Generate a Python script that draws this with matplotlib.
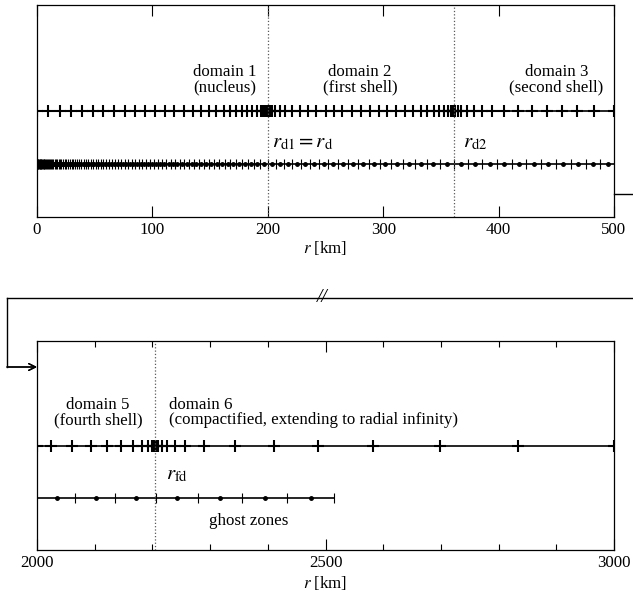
import numpy as np
import matplotlib.pyplot as plt
from matplotlib.lines import Line2D

plt.rcParams['font.family'] = 'serif'
plt.rcParams['font.serif'] = ['Liberation Serif']
plt.rcParams['mathtext.fontset'] = 'stix'
plt.rcParams['font.size'] = 12.2

# --- top panel: domains 1-3 (angular grid points) ---
spec_r = [0, 9.8, 20, 29.3, 38.8, 48.4, 57.6, 66.8, 76.4, 85, 93.8, 102.4, 111, 119, 127,
          134.8, 142, 148.7, 155.4, 161.7, 167.5, 172.7, 177.6, 182, 186.3, 190.6, 194,
          196.2, 197.8, 198.9, 199.6, 200,
          200.5, 201.5, 203.5, 206.6, 210.4, 215.3, 221, 228, 234.6, 242, 250, 257, 264.5,
          273, 280.4, 288.5, 296.3, 303.6, 311.4, 318.6, 325.8, 332.5, 338.3, 344, 348.4,
          352.7, 356, 358.5, 360, 361,
          361.5, 362.5, 364.6, 367.8, 373, 378.7, 386, 394.7, 404.8, 417, 428.6, 441.8,
          454.6, 467.9, 482.4, 500]

# hydro grid cell interfaces (top panel)
hydro_edges = [0, 0.4, 0.8, 1.2, 1.7, 2.2, 2.7, 3.2, 3.8, 4.4, 5.0, 5.7, 6.4, 7.1, 7.9,
               8.7, 9.5, 10.4, 11.3, 12.2, 13.2, 14.2, 15.3, 16.4, 17.5, 18.7, 19.9, 21.2,
               22.5, 23.9, 25.3, 26.8, 28.3, 29.9, 31.5, 33.2, 34.9, 36.7, 38.5, 40.4, 42.3,
               44.3, 46.4, 48.5, 50.7, 52.9, 55.2, 57.6, 60.0, 62.5, 65.1, 67.7, 70.4, 73.2,
               76.0, 78.9, 81.9, 85.0, 88.1, 91.3, 94.6, 98.0, 101.4, 104.9, 108.5, 112.2,
               116.0, 119.8, 123.7, 127.7, 131.8, 136.0, 140.2, 144.5, 148.9, 153.4, 158.0,
               162.7, 167.5, 172.4, 177.4, 182.5, 187.7, 193.0, 200.0, 207.0, 214.0, 221.3,
               228.8, 236.5, 244.4, 252.5, 260.8, 269.4, 278.3, 287.5, 297.0, 306.8, 316.9,
               327.3, 338.0, 349.0, 361.0, 373.5, 386.0, 398.6, 411.3, 424.0, 436.8, 449.6,
               462.5, 475.4, 488.3, 501.2]

# --- bottom panel: domains 5-6 ---
spec_r2 = [2000, 2025, 2060, 2093, 2121, 2145, 2167, 2182, 2192, 2199, 2203, 2205, 2207,
           2210, 2217, 2225, 2240, 2256, 2289, 2344, 2411, 2487, 2583, 2698, 2834, 3000]
ghost_edges = [2066, 2136, 2206, 2279, 2356, 2434, 2515]
ghost_centres = [2034, 2102, 2172, 2243, 2318, 2395, 2475]

r_d1, r_d2, r_fd = 200, 361, 2205

W, H = 633, 598
fig = plt.figure(figsize=(W / 100, H / 100), dpi=100)
ax1 = fig.add_axes([37 / W, 1 - 217 / H, 577 / W, 212 / H])
ax2 = fig.add_axes([37 / W, 1 - 550 / H, 577 / W, 209 / H])

y_up, y_lo = 0.5, 0.25
edges = np.array(hydro_edges)
centres = 0.5 * (edges[1:] + edges[:-1])

ax1.plot([0, 500], [y_up, y_up], color='k', lw=1.2)
ax1.plot(spec_r, [y_up] * len(spec_r), ls='none', marker='+', ms=8, mew=1.5, color='k')
ax1.plot([0, 500], [y_lo, y_lo], color='k', lw=1.2)
ax1.plot(edges, [y_lo] * len(edges), ls='none', marker='|', ms=7.5, mew=0.8, color='k')
ax1.plot(centres, [y_lo] * len(centres), ls='none', marker='o', ms=2.5, color='k')
for rb in (r_d1, r_d2):
    ax1.axvline(rb, ls=':', lw=0.9, color='0.35')

ax1.text(163, 0.685, 'domain 1', ha='center', va='center')
ax1.text(163, 0.61, '(nucleus)', ha='center', va='center')
ax1.text(280, 0.685, 'domain 2', ha='center', va='center')
ax1.text(280, 0.61, '(first shell)', ha='center', va='center')
ax1.text(450, 0.685, 'domain 3', ha='center', va='center')
ax1.text(450, 0.61, '(second shell)', ha='center', va='center')
ax1.text(204, 0.35, r'$r_{\rm d1} = r_{\rm d}$', fontsize=15, va='center')
ax1.text(369, 0.35, r'$r_{\rm d2}$', fontsize=15, va='center')

ax1.set_xlim(0, 500)
ax1.set_ylim(0, 1)
ax1.set_xticks(np.arange(0, 501, 100))
ax1.set_xlabel(r'$r$ [km]', labelpad=1)

ax2.plot([2000, 3000], [y_up, y_up], color='k', lw=1.2)
ax2.plot(spec_r2, [y_up] * len(spec_r2), ls='none', marker='+', ms=8, mew=1.5, color='k')
ax2.plot([2000, ghost_edges[-1]], [y_lo, y_lo], color='k', lw=1.2)
ax2.plot(ghost_edges, [y_lo] * len(ghost_edges), ls='none', marker='|', ms=7.5, mew=0.8, color='k')
ax2.plot(ghost_centres, [y_lo] * len(ghost_centres), ls='none', marker='o', ms=2.5, color='k')
ax2.axvline(r_fd, ls=':', lw=0.9, color='0.35')

ax2.text(2106, 0.695, 'domain 5', ha='center', va='center')
ax2.text(2106, 0.62, '(fourth shell)', ha='center', va='center')
ax2.text(2228, 0.695, 'domain 6', ha='left', va='center')
ax2.text(2228, 0.62, '(compactified, extending to radial infinity)', ha='left', va='center')
ax2.text(2223, 0.36, r'$r_{\rm fd}$', fontsize=15, va='center')
ax2.text(2367, 0.14, 'ghost zones', ha='center', va='center')

ax2.set_xlim(2000, 3000)
ax2.set_ylim(0, 1)
ax2.set_xticks([2000, 2500, 3000])
ax2.set_xticks(np.arange(2000, 3001, 100), minor=True)
ax2.set_xlabel(r'$r$ [km]', labelpad=2)

for ax in (ax1, ax2):
    ax.set_yticks([])
    ax.tick_params(axis='x', which='both', direction='in', top=True, labelsize=12.2)
    ax.tick_params(axis='x', which='major', length=8, width=0.8)
    ax.tick_params(axis='x', which='minor', length=4, width=0.8)
    for s in ax.spines.values():
        s.set_linewidth(0.9)

# connector between the panels
def px(x, y):
    return x / W, 1 - y / H

conn = [((614, 194), (633, 194)), ((7, 298), (633, 298)), ((7, 298), (7, 367))]
for a, b in conn:
    (x0, y0), (x1, y1) = px(*a), px(*b)
    fig.add_artist(Line2D([x0, x1], [y0, y1], transform=fig.transFigure, color='k', lw=1.0))
fig.text(*px(322, 298), '//', ha='center', va='center', fontsize=14, style='italic')
fig.add_artist(plt.annotate('', xy=px(37, 367), xytext=px(7, 367), xycoords='figure fraction',
                            textcoords='figure fraction',
                            arrowprops=dict(arrowstyle='->', lw=1.0, color='k',
                                            shrinkA=0, shrinkB=0)))

fig.savefig('out.png', dpi=100)
